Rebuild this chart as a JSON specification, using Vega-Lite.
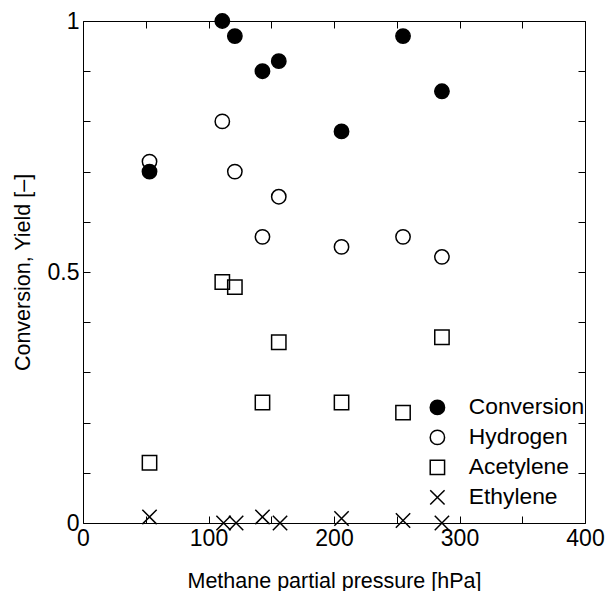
{
  "$schema": "https://vega.github.io/schema/vega-lite/v6.json",
  "width": 502,
  "height": 502,
  "autosize": {"type": "none"},
  "padding": {"left": 83, "top": 21, "right": 21, "bottom": 68},
  "background": "white",
  "config": {
    "view": {"stroke": null},
    "font": "Liberation Sans",
    "axis": {
      "grid": false,
      "domainColor": "black",
      "domainWidth": 1,
      "tickColor": "black",
      "tickWidth": 1,
      "labelColor": "black",
      "labelFont": "Liberation Sans",
      "labelFontSize": 23,
      "titleFont": "Liberation Sans",
      "titleFontSize": 21.5,
      "titleFontWeight": "normal",
      "titleColor": "black",
      "labelFlush": false,
      "labelOverlap": false
    },
    "legend": {
      "labelFont": "Liberation Sans",
      "labelFontSize": 22.8,
      "labelColor": "black"
    }
  },
  "data": {
    "values": [
      {"pressure": 53, "value": 0.012, "series": "Ethylene"},
      {"pressure": 112, "value": 0.0, "series": "Ethylene"},
      {"pressure": 122, "value": 0.0, "series": "Ethylene"},
      {"pressure": 143, "value": 0.012, "series": "Ethylene"},
      {"pressure": 157, "value": 0.0, "series": "Ethylene"},
      {"pressure": 206, "value": 0.009, "series": "Ethylene"},
      {"pressure": 255, "value": 0.005, "series": "Ethylene"},
      {"pressure": 286, "value": 0.0, "series": "Ethylene"},
      {"pressure": 53, "value": 0.12, "series": "Acetylene"},
      {"pressure": 111, "value": 0.48, "series": "Acetylene"},
      {"pressure": 121, "value": 0.47, "series": "Acetylene"},
      {"pressure": 143, "value": 0.24, "series": "Acetylene"},
      {"pressure": 156, "value": 0.36, "series": "Acetylene"},
      {"pressure": 206, "value": 0.24, "series": "Acetylene"},
      {"pressure": 255, "value": 0.22, "series": "Acetylene"},
      {"pressure": 286, "value": 0.37, "series": "Acetylene"},
      {"pressure": 53, "value": 0.72, "series": "Hydrogen"},
      {"pressure": 111, "value": 0.80, "series": "Hydrogen"},
      {"pressure": 121, "value": 0.70, "series": "Hydrogen"},
      {"pressure": 143, "value": 0.57, "series": "Hydrogen"},
      {"pressure": 156, "value": 0.65, "series": "Hydrogen"},
      {"pressure": 206, "value": 0.55, "series": "Hydrogen"},
      {"pressure": 255, "value": 0.57, "series": "Hydrogen"},
      {"pressure": 286, "value": 0.53, "series": "Hydrogen"},
      {"pressure": 53, "value": 0.70, "series": "Conversion"},
      {"pressure": 111, "value": 1.00, "series": "Conversion"},
      {"pressure": 121, "value": 0.97, "series": "Conversion"},
      {"pressure": 143, "value": 0.90, "series": "Conversion"},
      {"pressure": 156, "value": 0.92, "series": "Conversion"},
      {"pressure": 206, "value": 0.78, "series": "Conversion"},
      {"pressure": 255, "value": 0.97, "series": "Conversion"},
      {"pressure": 286, "value": 0.86, "series": "Conversion"}
    ]
  },
  "layer": [
    {
      "mark": {"type": "point", "filled": true, "strokeWidth": 1.5, "opacity": 1, "fillOpacity": 1, "strokeOpacity": 1, "clip": false},
      "encoding": {
        "x": {
          "field": "pressure", "type": "quantitative",
          "scale": {"domain": [0, 400], "nice": false, "zero": false},
          "axis": {
            "orient": "bottom",
            "values": [0, 50, 100, 150, 200, 250, 300, 350, 400],
            "labelExpr": "datum.value % 100 === 0 ? datum.label : ''",
            "format": "d",
            "tickSize": -7,
            "labelPadding": 11,
            "title": "Methane partial pressure [hPa]",
            "titleY": 64,
            "titleBaseline": "alphabetic"
          }
        },
        "y": {
          "field": "value", "type": "quantitative",
          "scale": {"domain": [0, 1], "nice": false, "zero": false},
          "axis": {
            "orient": "left",
            "values": [0, 0.1, 0.2, 0.3, 0.4, 0.5, 0.6, 0.7, 0.8, 0.9, 1],
            "labelExpr": "datum.value === 0 ? '0' : (abs(datum.value - 0.5) < 1e-9 ? '0.5' : (datum.value === 1 ? '1' : ''))",
            "tickSize": -7,
            "labelPadding": 11,
            "title": "Conversion, Yield [\u2013]",
            "titleAngle": 270,
            "titleX": -54,
            "titleY": 251,
            "titleAlign": "center",
            "titleBaseline": "alphabetic"
          }
        },
        "shape": {
          "field": "series", "type": "nominal",
          "scale": {"domain": ["Conversion", "Hydrogen", "Acetylene", "Ethylene"], "range": ["circle", "circle", "square", "M-1,-1L1,1M-1,1L1,-1"]},
          "legend": {"title": null, "orient": "none", "legendX": 343, "legendY": 375, "padding": 0, "rowPadding": 6, "labelOffset": 20, "symbolStrokeWidth": 1.5, "symbolOpacity": 1}
        },
        "fill": {
          "field": "series", "type": "nominal",
          "scale": {"domain": ["Conversion", "Hydrogen", "Acetylene", "Ethylene"], "range": ["black", "transparent", "transparent", "transparent"]},
          "legend": {"title": null, "orient": "none", "legendX": 343, "legendY": 375, "padding": 0, "rowPadding": 6, "labelOffset": 20, "symbolStrokeWidth": 1.5, "symbolOpacity": 1}
        },
        "stroke": {
          "field": "series", "type": "nominal",
          "scale": {"domain": ["Conversion", "Hydrogen", "Acetylene", "Ethylene"], "range": ["black", "black", "black", "black"]},
          "legend": {"title": null, "orient": "none", "legendX": 343, "legendY": 375, "padding": 0, "rowPadding": 6, "labelOffset": 20, "symbolStrokeWidth": 1.5, "symbolOpacity": 1}
        },
        "size": {
          "field": "series", "type": "nominal",
          "scale": {"domain": ["Conversion", "Hydrogen", "Acetylene", "Ethylene"], "range": [206, 206, 256, 150]},
          "legend": {"title": null, "orient": "none", "legendX": 343, "legendY": 375, "padding": 0, "rowPadding": 6, "labelOffset": 20, "symbolStrokeWidth": 1.5, "symbolOpacity": 1}
        }
      }
    },
    {
      "mark": {"type": "point", "opacity": 0},
      "encoding": {
        "x": {
          "field": "pressure", "type": "quantitative",
          "axis": {
            "orient": "top",
            "values": [0, 50, 100, 150, 200, 250, 300, 350, 400],
            "labels": false,
            "tickSize": -7,
            "title": null
          }
        },
        "y": {
          "field": "value", "type": "quantitative",
          "axis": {
            "orient": "right",
            "values": [0, 0.1, 0.2, 0.3, 0.4, 0.5, 0.6, 0.7, 0.8, 0.9, 1],
            "labels": false,
            "tickSize": -7,
            "title": null
          }
        }
      }
    }
  ],
  "resolve": {"axis": {"x": "independent", "y": "independent"}}
}
